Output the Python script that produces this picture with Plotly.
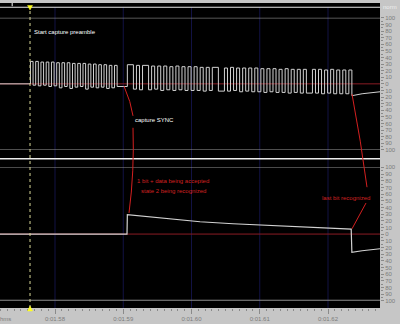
import plotly.graph_objects as go

# ---------------- data (time in ms, levels in "norm" units) ----------------
x_range_ms = [1571.94, 1627.62]
tick_ms = [1580, 1590, 1600, 1610, 1620]
tick_text = ["0:01.58", "0:01.59", "0:01.60", "0:01.61", "0:01.62"]
norm_ticks = list(range(-100, 101, 10))
norm_text = [str(abs(v)) for v in norm_ticks]

cursor_ms = 1576.34

# panel 1 : raw received signal
idle_level = 0
preamble_start_ms = 1576.40
preamble_half_ms = 0.385
preamble_high = [34, 34, 33, 33, 33, 32, 32, 32, 31, 31, 31, 30, 30, 29, 29, 28, 28]
preamble_low = [-2, -3, -2, -4, -3, -6, -4, -7, -5, -4, -8, -5, -6, -5, -7, -6, -4]
gap_end_ms = 1590.60
data_half_ms = 0.4446
data_units = [2, 1, 1, 1, 2, 1, 1, 1, 1, 1, 1, 1, 1, 1, 1, 1, 1, 1, 1, 1,
              1, 1, 1, 1, 1, 1, 2, 2, 1, 1, 1, 1, 1, 1, 1, 1,
              1, 1, 1, 1, 1, 1, 1, 1, 1, 1, 1, 1, 1, 1, 1, 1, 1, 1, 1, 2,
              1, 1, 1, 1, 1, 1, 1, 1, 1, 1, 1, 1, 1]
data_high = [29, 28, 28, 27, 27, 27, 26, 27, 26, 26,
             26, 25, 25, 25, 24, 25, 24, 24,
             24, 24, 23, 23, 23, 22, 23, 22, 22, 22,
             22, 22, 21, 22, 21, 21, 21]
data_low = [-8, -9, -9, -8, -10, -9, -10, -9, -10, -10,
            -10, -11, -10, -11, -11, -10, -12, -11,
            -12, -12, -13, -12, -13, -13, -14, -13, -14, -14,
            -14, -15, -14, -15, -15, -15]
tail_ms = [1623.50, 1625.00, 1627.62]
tail_val = [-18, -15, -12]

# panel 2 : decoder state signal
p2_ms = [1571.94, 1590.55, 1590.60, 1593.92, 1597.58, 1601.25, 1606.08,
         1611.06, 1615.90, 1623.40, 1623.50, 1625.00, 1627.62]
p2_val = [0, 0, 29, 25.5, 22, 18.5, 15.5, 13, 10.5, 7.5, -27.5, -25, -22]

# ---------------- build panel-1 step polyline ----------------
xs = [x_range_ms[0], preamble_start_ms]
ys = [idle_level, idle_level]
t = preamble_start_ms
n_pre = len(preamble_high)
for i, (hi, lo) in enumerate(zip(preamble_high, preamble_low)):
    xs += [t, t + preamble_half_ms]
    ys += [hi, hi]
    t += preamble_half_ms
    end = t + preamble_half_ms if i < n_pre - 1 else gap_end_ms
    xs += [t, end]
    ys += [lo, lo]
    t = end
hi_i = lo_i = 0
for k, u in enumerate(data_units):
    d = u * data_half_ms
    if k % 2 == 0:
        v = data_high[hi_i]; hi_i += 1
    else:
        v = data_low[lo_i]; lo_i += 1
    xs += [t, t + d]
    ys += [v, v]
    t += d
xs += tail_ms
ys += tail_val

# ---------------- figure ----------------
W, H = 400, 324
ML, MR, MT, MB = 0, 20, 0, 16
PW, PH = W - ML - MR, H - MT - MB


def py(p):  # pixel row inside plot area -> paper y
    return 1 - p / PH


def px(p):
    return p / PW


sig_col = "#d2d2d2"
fig = go.Figure()
fig.add_trace(go.Scatter(x=xs, y=ys, mode="lines", yaxis="y",
                         line=dict(color=sig_col, width=1), hoverinfo="skip"))
fig.add_trace(go.Scatter(x=p2_ms, y=p2_val, mode="lines", yaxis="y2",
                         line=dict(color=sig_col, width=1.2), hoverinfo="skip"))

font = "Arial"
lab_col = "#7c7c7c"
tick_col = "#8a8a8a"

yax = dict(range=[-100, 100], side="right", anchor="x", tickvals=norm_ticks,
           ticktext=norm_text, ticks="outside", ticklen=3, tickcolor=tick_col,
           tickfont=dict(size=6, color=lab_col, family=font), showgrid=False,
           zeroline=False, showline=False, fixedrange=True,
           minor=dict(dtick=5, ticks="outside", ticklen=2, tickcolor=tick_col,
                      showgrid=False))

shapes = []
# full black plotting background (covers gaps between panels)
shapes.append(dict(type="rect", xref="paper", yref="paper", x0=0, x1=1, y0=0, y1=1,
                   layer="below", fillcolor="#000000", line=dict(width=0)))
# faint vertical grid lines at major time ticks
for tm in tick_ms:
    shapes.append(dict(type="line", xref="x", yref="paper", x0=tm, x1=tm, y0=0, y1=py(4.3),
                       layer="below", line=dict(color="#121244", width=1)))
# horizontal frame lines
shapes.append(dict(type="line", xref="paper", yref="paper", x0=0, x1=1,
                   y0=py(4.3), y1=py(4.3), line=dict(color="#e6e6e6", width=1)))
shapes.append(dict(type="line", xref="paper", yref="paper", x0=0, x1=1,
                   y0=py(157.3), y1=py(157.3), line=dict(color="#ececec", width=1.6)))
for yr in ("y", "y2"):
    shapes.append(dict(type="line", xref="paper", yref=yr, x0=0, x1=1, y0=100, y1=100,
                       line=dict(color="#a8a8a8", width=1)))
shapes.append(dict(type="line", xref="paper", yref="y", x0=0, x1=1, y0=-100, y1=-100,
                   line=dict(color="#a0a0a0", width=1)))
shapes.append(dict(type="line", xref="paper", yref="y2", x0=0, x1=1, y0=-100, y1=-100,
                   line=dict(color="#8c8c8c", width=2.2)))
# red zero lines
for yr in ("y", "y2"):
    shapes.append(dict(type="line", xref="paper", yref=yr, x0=0, x1=1, y0=0, y1=0,
                       layer="below", line=dict(color="#8a1c24", width=1)))
# cursor
shapes.append(dict(type="line", xref="x", yref="paper", x0=cursor_ms, x1=cursor_ms,
                   y0=0, y1=py(4.3), line=dict(color="#d8d898", width=1, dash="dot")))
hw = 0.36
shapes.append(dict(type="path", xref="x", yref="paper",
                   path=f"M {cursor_ms-hw} {py(2.5)} L {cursor_ms+hw} {py(2.5)} L {cursor_ms} {py(7)} Z",
                   fillcolor="#ffff20", line=dict(color="#ffff20", width=0.5)))
shapes.append(dict(type="path", xref="x", yref="paper",
                   path=f"M {cursor_ms-hw} {py(311)} L {cursor_ms+hw} {py(311)} L {cursor_ms} {py(306)} Z",
                   fillcolor="#ffff20", line=dict(color="#ffff20", width=0.5)))
# small grey marker top-left
shapes.append(dict(type="rect", xref="paper", yref="paper", x0=px(11.5), x1=px(13),
                   y0=py(3.2), y1=py(0), fillcolor="#a8a8a8", line=dict(width=0)))
# red annotation leader lines
red = "#d42020"
paths = [
    f"M {px(124)} {py(84)} Q {px(131)} {py(100)} {px(133)} {py(114)}",
    f"M {px(133)} {py(126)} Q {px(134.5)} {py(170)} {px(129)} {py(212)}",
    f"M {px(352)} {py(92)} Q {px(361)} {py(140)} {px(367)} {py(186)}",
    f"M {px(366)} {py(202)} L {px(352)} {py(228)}",
]
for p in paths:
    shapes.append(dict(type="path", xref="paper", yref="paper", path=p,
                       line=dict(color=red, width=1)))

ann = []


def text(s, x, y, col, xanchor="left", size=6):
    ann.append(dict(text=s, x=x, y=y, xref="paper", yref="paper", showarrow=False,
                    xanchor=xanchor, yanchor="middle",
                    font=dict(size=size, color=col, family=font)))


text("Start capture preamble", px(32), py(29), "#ffffff")
text("capture SYNC", px(133), py(118), "#ffffff")
text("1 bit + data being accepted", px(135), py(180), red)
text("state 2 being recognized", px(139), py(190), red)
text("last bit recognized", px(320), py(197), red)
text("norm", px(390), py(4), "#eeeeee", xanchor="center")
text("hms", px(5), py(319), lab_col, xanchor="center")

fig.update_layout(
    width=W, height=H, margin=dict(l=ML, r=MR, t=MT, b=MB),
    paper_bgcolor="#c6c6c6", plot_bgcolor="#000000", showlegend=False,
    xaxis=dict(range=x_range_ms, tickvals=tick_ms, ticktext=tick_text,
               ticks="outside", ticklen=5, tickcolor=tick_col,
               tickfont=dict(size=6, color=lab_col, family=font),
               showgrid=False, zeroline=False,
               showline=False, anchor="free", position=0, fixedrange=True,
               minor=dict(dtick=1, ticks="outside", ticklen=2, tickcolor=tick_col,
                          showgrid=False)),
    yaxis=dict(domain=[py(148.3), py(15)], **yax),
    yaxis2=dict(domain=[py(300.7), py(166)], **yax),
    shapes=shapes, annotations=ann,
)

fig.write_html("out.html")
